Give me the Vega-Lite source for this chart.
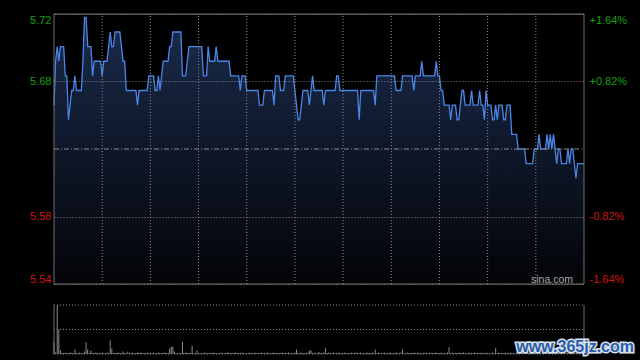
{
  "$schema": "https://vega.github.io/schema/vega-lite/v6.json",
  "width": 530,
  "height": 341,
  "autosize": {"type": "none"},
  "padding": {"left": 54, "top": 14, "right": 56, "bottom": 5},
  "background": "#000000",
  "config": {
    "view": {"stroke": null},
    "axis": {"labelFont": "Liberation Sans", "labelFontSize": 11, "title": null},
    "axisX": {"disable": true}
  },
  "datasets": {
    "one": [{}],
    "grid": [{"t":30},{"t":60},{"t":90},{"t":120},{"t":150},{"t":180},{"t":210},{"t":240},{"t":270},{"t":300}],
    "vlevels": [{"v":0},{"v":50},{"v":100}],
    "edges": [{"t":0},{"t":330}],
    "series": [
{"t":0,"p":5.66,"v":24},{"t":1,"p":5.69,"v":3},{"t":2,"p":5.70,"v":100},{"t":3,"p":5.69,"v":50},{"t":4,"p":5.70,"v":8},
{"t":5,"p":5.70,"v":2},{"t":6,"p":5.70,"v":2},{"t":7,"p":5.68,"v":3},{"t":8,"p":5.68,"v":2},{"t":9,"p":5.65,"v":2},
{"t":10,"p":5.66,"v":3},{"t":11,"p":5.67,"v":2},{"t":12,"p":5.67,"v":2},{"t":13,"p":5.68,"v":9},{"t":14,"p":5.67,"v":2},
{"t":15,"p":5.67,"v":2},{"t":16,"p":5.67,"v":3},{"t":17,"p":5.67,"v":2},{"t":18,"p":5.69,"v":2},{"t":19,"p":5.72,"v":5},
{"t":20,"p":5.72,"v":24},{"t":21,"p":5.70,"v":9},{"t":22,"p":5.70,"v":2},{"t":23,"p":5.70,"v":7},{"t":24,"p":5.68,"v":2},
{"t":25,"p":5.69,"v":2},{"t":26,"p":5.69,"v":3},{"t":27,"p":5.69,"v":2},{"t":28,"p":5.69,"v":2},{"t":29,"p":5.69,"v":2},
{"t":30,"p":5.68,"v":3},{"t":31,"p":5.69,"v":2},{"t":32,"p":5.69,"v":2},{"t":33,"p":5.69,"v":3},{"t":34,"p":5.70,"v":2},
{"t":35,"p":5.71,"v":28},{"t":36,"p":5.70,"v":11},{"t":37,"p":5.70,"v":2},{"t":38,"p":5.71,"v":2},{"t":39,"p":5.71,"v":2},
{"t":40,"p":5.71,"v":3},{"t":41,"p":5.71,"v":2},{"t":42,"p":5.70,"v":2},{"t":43,"p":5.69,"v":5},{"t":44,"p":5.69,"v":2},
{"t":45,"p":5.67,"v":2},{"t":46,"p":5.67,"v":5},{"t":47,"p":5.67,"v":2},{"t":48,"p":5.67,"v":2},{"t":49,"p":5.67,"v":3},
{"t":50,"p":5.67,"v":2},{"t":51,"p":5.67,"v":2},{"t":52,"p":5.66,"v":3},{"t":53,"p":5.67,"v":2},{"t":54,"p":5.67,"v":3},
{"t":55,"p":5.67,"v":2},{"t":56,"p":5.67,"v":2},{"t":57,"p":5.67,"v":2},{"t":58,"p":5.67,"v":3},{"t":59,"p":5.68,"v":2},
{"t":60,"p":5.68,"v":2},{"t":61,"p":5.68,"v":2},{"t":62,"p":5.68,"v":3},{"t":63,"p":5.67,"v":2},{"t":64,"p":5.67,"v":2},
{"t":65,"p":5.68,"v":3},{"t":66,"p":5.67,"v":2},{"t":67,"p":5.68,"v":2},{"t":68,"p":5.69,"v":2},{"t":69,"p":5.69,"v":3},
{"t":70,"p":5.69,"v":2},{"t":71,"p":5.69,"v":2},{"t":72,"p":5.70,"v":11},{"t":73,"p":5.70,"v":15},{"t":74,"p":5.71,"v":15},
{"t":75,"p":5.71,"v":5},{"t":76,"p":5.71,"v":2},{"t":77,"p":5.71,"v":2},{"t":78,"p":5.71,"v":2},{"t":79,"p":5.71,"v":2},
{"t":80,"p":5.68,"v":25},{"t":81,"p":5.68,"v":2},{"t":82,"p":5.68,"v":3},{"t":83,"p":5.69,"v":2},{"t":84,"p":5.70,"v":2},
{"t":85,"p":5.70,"v":2},{"t":86,"p":5.70,"v":17},{"t":87,"p":5.70,"v":2},{"t":88,"p":5.70,"v":2},{"t":89,"p":5.70,"v":7},
{"t":90,"p":5.70,"v":2},{"t":91,"p":5.70,"v":2},{"t":92,"p":5.70,"v":2},{"t":93,"p":5.68,"v":2},{"t":94,"p":5.68,"v":3},
{"t":95,"p":5.68,"v":2},{"t":96,"p":5.70,"v":2},{"t":97,"p":5.69,"v":2},{"t":98,"p":5.69,"v":2},{"t":99,"p":5.69,"v":3},
{"t":100,"p":5.69,"v":2},{"t":101,"p":5.70,"v":2},{"t":102,"p":5.69,"v":2},{"t":103,"p":5.69,"v":2},{"t":104,"p":5.69,"v":3},
{"t":105,"p":5.69,"v":2},{"t":106,"p":5.69,"v":2},{"t":107,"p":5.69,"v":2},{"t":108,"p":5.69,"v":3},{"t":109,"p":5.69,"v":2},
{"t":110,"p":5.68,"v":2},{"t":111,"p":5.68,"v":2},{"t":112,"p":5.68,"v":2},{"t":113,"p":5.68,"v":3},{"t":114,"p":5.68,"v":2},
{"t":115,"p":5.68,"v":2},{"t":116,"p":5.67,"v":2},{"t":117,"p":5.68,"v":3},{"t":118,"p":5.68,"v":2},{"t":119,"p":5.68,"v":2},
{"t":120,"p":5.67,"v":2},{"t":121,"p":5.67,"v":2},{"t":122,"p":5.67,"v":3},{"t":123,"p":5.67,"v":2},{"t":124,"p":5.67,"v":2},
{"t":125,"p":5.67,"v":3},{"t":126,"p":5.67,"v":2},{"t":127,"p":5.67,"v":2},{"t":128,"p":5.66,"v":2},{"t":129,"p":5.66,"v":3},
{"t":130,"p":5.66,"v":2},{"t":131,"p":5.67,"v":2},{"t":132,"p":5.67,"v":2},{"t":133,"p":5.67,"v":3},{"t":134,"p":5.67,"v":2},
{"t":135,"p":5.67,"v":2},{"t":136,"p":5.67,"v":2},{"t":137,"p":5.66,"v":3},{"t":138,"p":5.68,"v":2},{"t":139,"p":5.68,"v":2},
{"t":140,"p":5.68,"v":2},{"t":141,"p":5.67,"v":2},{"t":142,"p":5.67,"v":3},{"t":143,"p":5.67,"v":2},{"t":144,"p":5.68,"v":2},
{"t":145,"p":5.68,"v":2},{"t":146,"p":5.68,"v":3},{"t":147,"p":5.68,"v":2},{"t":148,"p":5.68,"v":2},{"t":149,"p":5.68,"v":2},
{"t":150,"p":5.67,"v":3},{"t":151,"p":5.66,"v":9},{"t":152,"p":5.65,"v":2},{"t":153,"p":5.65,"v":2},{"t":154,"p":5.66,"v":3},
{"t":155,"p":5.67,"v":2},{"t":156,"p":5.67,"v":2},{"t":157,"p":5.67,"v":2},{"t":158,"p":5.67,"v":3},{"t":159,"p":5.66,"v":7},
{"t":160,"p":5.67,"v":7},{"t":161,"p":5.68,"v":2},{"t":162,"p":5.67,"v":3},{"t":163,"p":5.67,"v":2},{"t":164,"p":5.67,"v":2},
{"t":165,"p":5.67,"v":4},{"t":166,"p":5.67,"v":2},{"t":167,"p":5.67,"v":2},{"t":168,"p":5.66,"v":3},{"t":169,"p":5.67,"v":12},
{"t":170,"p":5.67,"v":2},{"t":171,"p":5.67,"v":3},{"t":172,"p":5.67,"v":2},{"t":173,"p":5.67,"v":2},{"t":174,"p":5.67,"v":3},
{"t":175,"p":5.67,"v":2},{"t":176,"p":5.68,"v":2},{"t":177,"p":5.68,"v":3},{"t":178,"p":5.67,"v":2},{"t":179,"p":5.67,"v":2},
{"t":180,"p":5.67,"v":2},{"t":181,"p":5.67,"v":3},{"t":182,"p":5.67,"v":2},{"t":183,"p":5.67,"v":2},{"t":184,"p":5.67,"v":2},
{"t":185,"p":5.67,"v":3},{"t":186,"p":5.67,"v":2},{"t":187,"p":5.67,"v":2},{"t":188,"p":5.67,"v":3},{"t":189,"p":5.67,"v":2},
{"t":190,"p":5.65,"v":2},{"t":191,"p":5.67,"v":3},{"t":192,"p":5.67,"v":2},{"t":193,"p":5.67,"v":2},{"t":194,"p":5.67,"v":2},
{"t":195,"p":5.67,"v":3},{"t":196,"p":5.67,"v":2},{"t":197,"p":5.67,"v":2},{"t":198,"p":5.67,"v":3},{"t":199,"p":5.67,"v":2},
{"t":200,"p":5.66,"v":9},{"t":201,"p":5.68,"v":2},{"t":202,"p":5.68,"v":3},{"t":203,"p":5.68,"v":2},{"t":204,"p":5.68,"v":2},
{"t":205,"p":5.68,"v":2},{"t":206,"p":5.68,"v":3},{"t":207,"p":5.68,"v":2},{"t":208,"p":5.68,"v":2},{"t":209,"p":5.68,"v":3},
{"t":210,"p":5.68,"v":2},{"t":211,"p":5.68,"v":2},{"t":212,"p":5.68,"v":2},{"t":213,"p":5.67,"v":3},{"t":214,"p":5.67,"v":2},
{"t":215,"p":5.67,"v":2},{"t":216,"p":5.67,"v":3},{"t":217,"p":5.68,"v":9},{"t":218,"p":5.68,"v":2},{"t":219,"p":5.68,"v":2},
{"t":220,"p":5.68,"v":3},{"t":221,"p":5.68,"v":2},{"t":222,"p":5.68,"v":2},{"t":223,"p":5.68,"v":2},{"t":224,"p":5.67,"v":3},
{"t":225,"p":5.68,"v":2},{"t":226,"p":5.68,"v":2},{"t":227,"p":5.68,"v":3},{"t":228,"p":5.68,"v":2},{"t":229,"p":5.69,"v":2},
{"t":230,"p":5.68,"v":2},{"t":231,"p":5.68,"v":3},{"t":232,"p":5.68,"v":2},{"t":233,"p":5.68,"v":2},{"t":234,"p":5.68,"v":3},
{"t":235,"p":5.68,"v":2},{"t":236,"p":5.68,"v":2},{"t":237,"p":5.68,"v":2},{"t":238,"p":5.69,"v":3},{"t":239,"p":5.68,"v":2},
{"t":240,"p":5.68,"v":2},{"t":241,"p":5.67,"v":3},{"t":242,"p":5.67,"v":2},{"t":243,"p":5.66,"v":2},{"t":244,"p":5.66,"v":2},
{"t":245,"p":5.66,"v":3},{"t":246,"p":5.66,"v":14},{"t":247,"p":5.65,"v":2},{"t":248,"p":5.66,"v":3},{"t":249,"p":5.66,"v":2},
{"t":250,"p":5.66,"v":2},{"t":251,"p":5.65,"v":2},{"t":252,"p":5.65,"v":3},{"t":253,"p":5.66,"v":2},{"t":254,"p":5.67,"v":2},
{"t":255,"p":5.67,"v":3},{"t":256,"p":5.66,"v":2},{"t":257,"p":5.66,"v":2},{"t":258,"p":5.66,"v":2},{"t":259,"p":5.66,"v":3},
{"t":260,"p":5.67,"v":2},{"t":261,"p":5.66,"v":2},{"t":262,"p":5.66,"v":3},{"t":263,"p":5.66,"v":2},{"t":264,"p":5.66,"v":2},
{"t":265,"p":5.67,"v":2},{"t":266,"p":5.66,"v":3},{"t":267,"p":5.66,"v":2},{"t":268,"p":5.65,"v":2},{"t":269,"p":5.67,"v":3},
{"t":270,"p":5.66,"v":2},{"t":271,"p":5.66,"v":2},{"t":272,"p":5.66,"v":2},{"t":273,"p":5.65,"v":3},{"t":274,"p":5.65,"v":2},
{"t":275,"p":5.66,"v":12},{"t":276,"p":5.65,"v":2},{"t":277,"p":5.66,"v":3},{"t":278,"p":5.66,"v":2},{"t":279,"p":5.66,"v":2},
{"t":280,"p":5.65,"v":2},{"t":281,"p":5.65,"v":3},{"t":282,"p":5.66,"v":2},{"t":283,"p":5.66,"v":2},{"t":284,"p":5.66,"v":3},
{"t":285,"p":5.64,"v":2},{"t":286,"p":5.64,"v":2},{"t":287,"p":5.64,"v":2},{"t":288,"p":5.64,"v":3},{"t":289,"p":5.63,"v":2},
{"t":290,"p":5.63,"v":2},{"t":291,"p":5.63,"v":3},{"t":292,"p":5.63,"v":2},{"t":293,"p":5.63,"v":2},{"t":294,"p":5.62,"v":2},
{"t":295,"p":5.62,"v":3},{"t":296,"p":5.62,"v":2},{"t":297,"p":5.62,"v":2},{"t":298,"p":5.62,"v":3},{"t":299,"p":5.63,"v":2},
{"t":300,"p":5.63,"v":2},{"t":301,"p":5.63,"v":2},{"t":302,"p":5.64,"v":3},{"t":303,"p":5.63,"v":2},{"t":304,"p":5.63,"v":2},
{"t":305,"p":5.63,"v":3},{"t":306,"p":5.63,"v":2},{"t":307,"p":5.64,"v":2},{"t":308,"p":5.63,"v":2},{"t":309,"p":5.64,"v":3},
{"t":310,"p":5.63,"v":2},{"t":311,"p":5.64,"v":2},{"t":312,"p":5.63,"v":3},{"t":313,"p":5.62,"v":2},{"t":314,"p":5.63,"v":2},
{"t":315,"p":5.63,"v":2},{"t":316,"p":5.62,"v":3},{"t":317,"p":5.62,"v":2},{"t":318,"p":5.62,"v":2},{"t":319,"p":5.62,"v":3},
{"t":320,"p":5.63,"v":2},{"t":321,"p":5.62,"v":2},{"t":322,"p":5.63,"v":3},{"t":323,"p":5.63,"v":2},{"t":324,"p":5.62,"v":2},
{"t":325,"p":5.61,"v":3},{"t":326,"p":5.62,"v":2},{"t":327,"p":5.62,"v":2},{"t":328,"p":5.62,"v":3},{"t":329,"p":5.62,"v":2},
{"t":330,"p":5.62,"v":2}
    ]
  },
  "layer": [
    {
      "layer": [
        {
          "data": {"name": "series"},
          "mark": {"type": "area", "interpolate": "linear", "color": {"gradient": "linear", "x1": 0, "y1": 0, "x2": 0, "y2": 1, "stops": [{"offset": 0, "color": "#1b2b4b"}, {"offset": 1, "color": "#030407"}]}},
          "encoding": {
            "x": {"field": "t", "type": "quantitative", "scale": {"domain": [0, 330], "nice": false, "zero": false}, "axis": null},
            "y": {"field": "p", "type": "quantitative", "scale": {"domain": [5.5377, 5.7223], "range": [270, 0], "nice": false, "zero": false},
              "axis": {"orient": "left", "values": [5.5377, 5.5838, 5.6762, 5.7223], "format": ".2f", "labelFlush": true, "labelPadding": 3, "ticks": false, "domain": false, "grid": true, "gridColor": "#8a8a8a", "gridDash": [1, 2], "gridWidth": 1, "zindex": 1,
                "labelColor": {"condition": {"test": "datum.value > 5.63", "value": "#12a012"}, "value": "#d01414"}}},
            "y2": {"datum": 5.5377}
          }
        },
        {
          "data": {"name": "series"},
          "mark": {"type": "line", "interpolate": "linear", "color": "#4a86e8", "strokeWidth": 1.3},
          "encoding": {
            "x": {"field": "t", "type": "quantitative", "scale": {"domain": [0, 330], "nice": false, "zero": false}, "axis": null},
            "y": {"field": "p", "type": "quantitative", "scale": {"domain": [5.5377, 5.7223], "range": [270, 0], "nice": false, "zero": false}}
          }
        },
        {
          "data": {"name": "grid"},
          "mark": {"type": "rule", "color": "#8a8a8a", "strokeDash": [1, 2], "strokeWidth": 1},
          "encoding": {
            "x": {"field": "t", "type": "quantitative", "axis": null},
            "y": {"datum": 5.5377, "type": "quantitative"},
            "y2": {"datum": 5.7223}
          }
        },
        {
          "data": {"name": "one"},
          "mark": {"type": "rect", "fill": "#000000", "fillOpacity": 0, "stroke": "#707070", "strokeWidth": 1},
          "encoding": {
            "x": {"datum": 0, "type": "quantitative", "axis": null},
            "x2": {"datum": 330},
            "y": {"datum": 5.5377, "type": "quantitative"},
            "y2": {"datum": 5.7223}
          }
        },
        {
          "data": {"name": "one"},
          "mark": {"type": "text", "text": "sina.com", "align": "right", "baseline": "alphabetic", "dx": -11, "dy": -1, "font": "Liberation Sans", "fontSize": 10.5, "color": "#a8a8a8"},
          "encoding": {
            "x": {"datum": 330, "type": "quantitative", "axis": null},
            "y": {"datum": 5.5377, "type": "quantitative"}
          }
        }
      ]
    },
    {
      "data": {"name": "one"},
      "mark": {"type": "rule", "color": "#8a8a8a", "strokeDash": [5, 2, 1, 2], "strokeWidth": 1},
      "encoding": {
        "x": {"datum": 0, "type": "quantitative", "axis": null},
        "x2": {"datum": 330},
        "y": {"datum": 0, "type": "quantitative", "scale": {"domain": [-1.64, 1.64], "range": [270, 0], "nice": false, "zero": false},
          "axis": {"orient": "right", "values": [-1.64, -0.82, 0.82, 1.64], "labelExpr": "(datum.value > 0 ? '+' : '-') + format(abs(datum.value), '.2f') + '%'", "labelFlush": true, "labelPadding": 5, "ticks": false, "domain": false, "grid": false,
            "labelColor": {"condition": {"test": "datum.value > 0", "value": "#12a012"}, "value": "#d01414"}}}
      }
    },
    {
      "layer": [
        {
          "data": {"name": "series"},
          "mark": {"type": "rule", "color": "#8c8c8c", "strokeWidth": 1},
          "encoding": {
            "x": {"field": "t", "type": "quantitative", "axis": null},
            "y": {"field": "v", "type": "quantitative", "scale": {"domain": [0, 100], "range": [340, 291], "nice": false}, "axis": null},
            "y2": {"datum": 0}
          }
        },
        {
          "data": {"name": "vlevels"},
          "mark": {"type": "rule", "color": "#8a8a8a", "strokeDash": [1, 2], "strokeWidth": 1},
          "encoding": {
            "x": {"datum": 0, "type": "quantitative", "axis": null},
            "x2": {"datum": 330},
            "y": {"field": "v", "type": "quantitative", "scale": {"domain": [0, 100], "range": [340, 291], "nice": false}, "axis": null}
          }
        },
        {
          "data": {"name": "edges"},
          "mark": {"type": "rule", "color": "#707070", "strokeWidth": 1},
          "encoding": {
            "x": {"field": "t", "type": "quantitative", "axis": null},
            "y": {"datum": 0, "type": "quantitative"},
            "y2": {"datum": 100}
          }
        },
        {
          "data": {"name": "one"},
          "mark": {"type": "text", "text": "www.365jz.com", "align": "right", "baseline": "alphabetic", "dx": 50, "dy": -2.5, "font": "Liberation Sans", "fontSize": 16, "fontWeight": "bold", "fill": "#d8e0ee", "stroke": "#d8e0ee", "strokeWidth": 3},
          "encoding": {
            "x": {"datum": 330, "type": "quantitative", "axis": null},
            "y": {"datum": 0, "type": "quantitative"}
          }
        },
        {
          "data": {"name": "one"},
          "mark": {"type": "text", "text": "www.365jz.com", "align": "right", "baseline": "alphabetic", "dx": 50, "dy": -2.5, "font": "Liberation Sans", "fontSize": 16, "fontWeight": "bold", "fill": "#2b5ca8"},
          "encoding": {
            "x": {"datum": 330, "type": "quantitative", "axis": null},
            "y": {"datum": 0, "type": "quantitative"}
          }
        }
      ]
    }
  ],
  "resolve": {"scale": {"y": "independent"}, "axis": {"y": "independent"}}
}
